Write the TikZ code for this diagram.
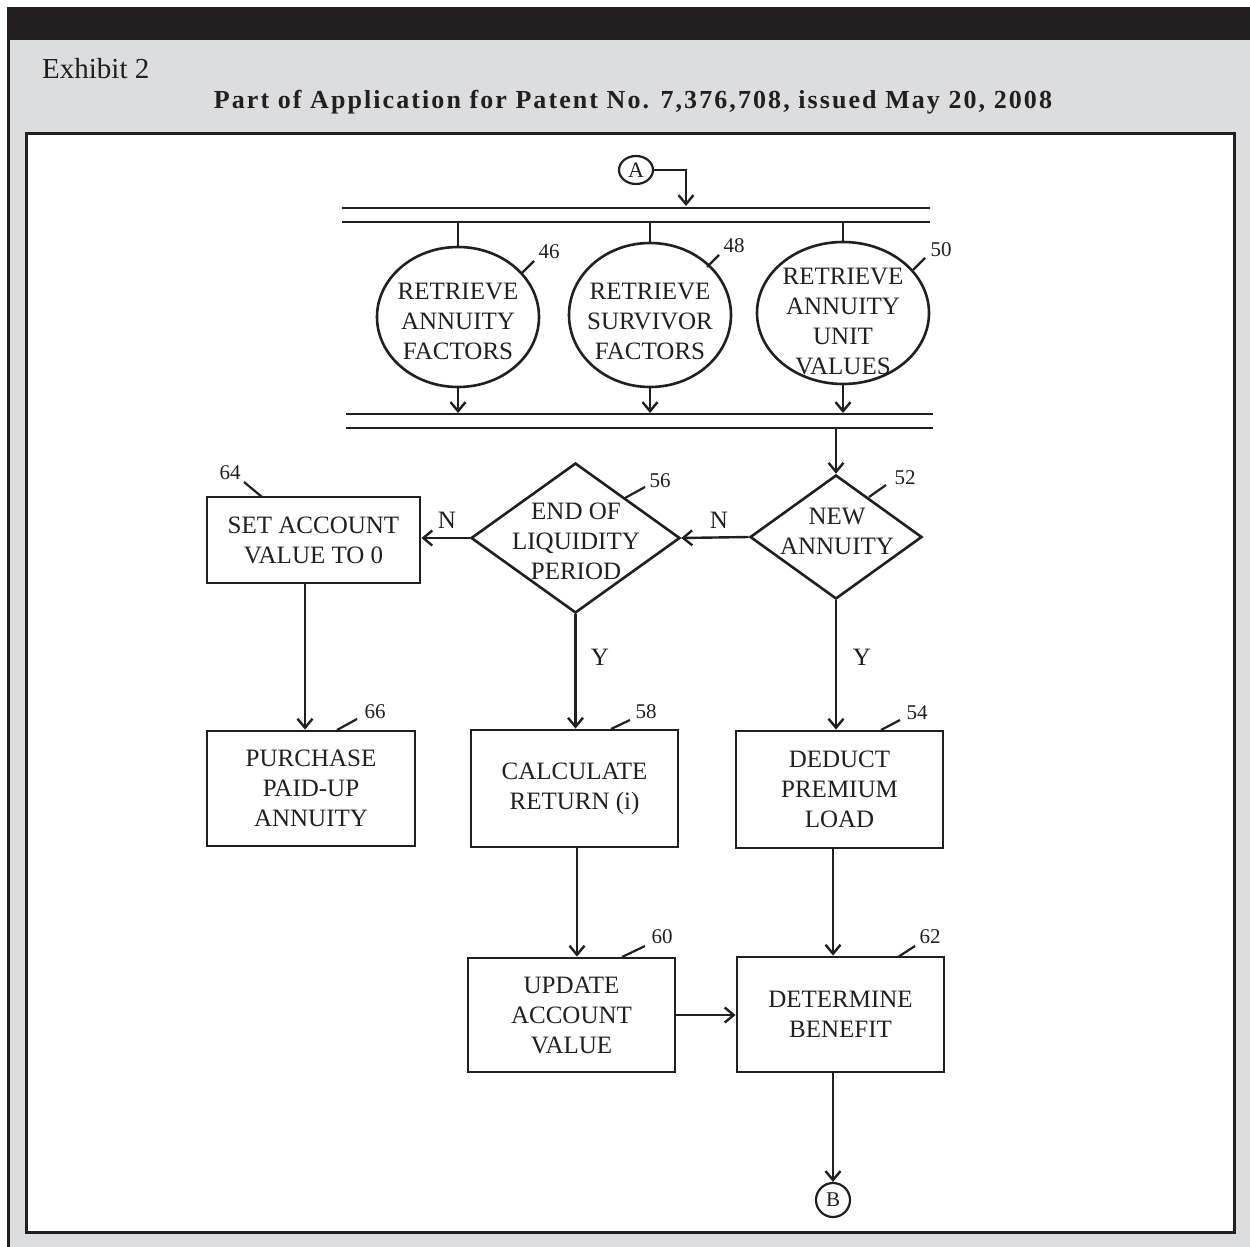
\documentclass[tikz,border=0pt]{standalone}
\usepackage{fontspec}
\setmainfont{Liberation Serif}
\newfontfamily\titlefont[LetterSpace=8]{Liberation Serif}
\usetikzlibrary{arrows.meta,shapes.geometric}
\definecolor{ink}{HTML}{231F20}
\definecolor{bg}{HTML}{DCDDDF}
\newcommand\dfont{\fontsize{25}{30}\selectfont}
\newcommand\nfont{\fontsize{21}{22}\selectfont}
\tikzset{
  boxnode/.style={draw=ink, line width=2.8pt, rectangle, inner sep=0pt, align=center, font=\dfont, text=ink},
  ellnode/.style={draw=ink, ellipse, line width=2.6pt, inner sep=0pt},
  dianode/.style={draw=ink, diamond, line width=2.6pt, inner sep=0pt},
  txtnode/.style={inner sep=0pt, align=center, font=\dfont, text=ink},
  numnode/.style={inner sep=0pt, font=\nfont, text=ink},
  lblnode/.style={inner sep=0pt, font=\dfont, text=ink},
  arr/.style={draw=ink, line width=2.4pt, -{Straight Barb[length=9pt,width=15pt]}},
  plain/.style={draw=ink, line width=2.4pt},
  busline/.style={draw=ink, line width=2.8pt},
  leader/.style={draw=ink, line width=2.2pt}
}
\begin{document}
\begin{tikzpicture}[x=1pt,y=-1pt]
\useasboundingbox (0,0) rectangle (1250,1247);
\fill[white] (0,0) rectangle (1250,1247);
\fill[bg] (7,40) rectangle (1250,1247);
\fill[ink] (7,7) rectangle (1250,40);
\draw[ink, line width=3pt] (8.5,40) -- (8.5,1247);
\filldraw[fill=white, draw=ink, line width=3pt] (26.5,133.5) rectangle (1234.5,1232.5);

\node[anchor=base west, inner sep=0pt, text=ink, font=\fontsize{29}{32}\selectfont] (exh) at (42,78) {Exhibit 2};
\node[anchor=base, inner sep=0pt, text=ink, font=\titlefont\bfseries\fontsize{26}{28}\selectfont] (title) at (633,108) {Part of Application for Patent No. 7,376,708, issued May 20, 2008};

% connector A
\node[draw=ink, ellipse, line width=2.2pt, minimum width=34pt, minimum height=28pt, inner sep=0pt, font=\fontsize{22}{24}\selectfont, text=ink] (A) at (636,170) {A};
\coordinate (a1) at (686,170);
\coordinate (a2) at (686,206);
\draw[arr] (A.east) -- (a1) -- (a2);

% top bus
\coordinate (t1l) at (342,208); \coordinate (t1r) at (930,208);
\coordinate (t2l) at (342,222); \coordinate (t2r) at (930,222);
\draw[busline] (t1l) -- (t1r);
\draw[busline] (t2l) -- (t2r);

% bottom bus
\coordinate (b1l) at (346,414); \coordinate (b1r) at (933,414);
\coordinate (b2l) at (346,428); \coordinate (b2r) at (933,428);
\draw[busline] (b1l) -- (b1r);
\draw[busline] (b2l) -- (b2r);
\coordinate (bus1) at (0,413);

% ellipses
\node[ellnode, minimum width=162pt, minimum height=140pt] (c46) at (458,317) {};
\node[txtnode] (c46t) at (458,321) {RETRIEVE\\ANNUITY\\FACTORS};
\node[ellnode, minimum width=162pt, minimum height=144pt] (c48) at (650,315) {};
\node[txtnode] (c48t) at (650,321) {RETRIEVE\\SURVIVOR\\FACTORS};
\node[ellnode, minimum width=172pt, minimum height=142pt] (c50) at (843,313) {};
\node[txtnode] (c50t) at (843,322) {RETRIEVE\\ANNUITY\\UNIT\\VALUES};

\foreach \c in {c46,c48,c50}{
  \draw[plain] (\c.north |- t2l) -- (\c.north);
  \draw[arr] (\c.south) -- (\c.south |- bus1);
}

% diamonds
\node[dianode, minimum width=172pt, minimum height=124pt] (d52) at (836,537) {};
\node[txtnode] (d52t) at (837,531) {NEW\\ANNUITY};
\node[dianode, minimum width=209pt, minimum height=150pt] (d56) at (575.5,538) {};
\node[txtnode] (d56t) at (576,541) {END OF\\LIQUIDITY\\PERIOD};

\coordinate (bd) at (836,428);
\draw[arr] (bd) -- (d52.north);

% boxes
\node[boxnode, minimum width=213pt, minimum height=86pt] (b64) at (313.5,540) {SET ACCOUNT\\VALUE TO 0};
\node[boxnode, minimum width=208pt, minimum height=115pt] (b66) at (311,788.5) {PURCHASE\\PAID-UP\\ANNUITY};
\node[boxnode, minimum width=207pt, minimum height=117pt] (b58) at (574.5,788.5) {CALCULATE\\RETURN (i)};
\node[boxnode, minimum width=207pt, minimum height=117pt] (b54) at (839.5,789.5) {DEDUCT\\PREMIUM\\LOAD};
\node[boxnode, minimum width=207pt, minimum height=114pt] (b60) at (571.5,1015) {UPDATE\\ACCOUNT\\VALUE};
\node[boxnode, minimum width=207pt, minimum height=115pt] (b62) at (840.5,1014.5) {DETERMINE\\BENEFIT};

\node[draw=ink, circle, line width=2.2pt, minimum size=34pt, inner sep=0pt, font=\fontsize{21}{22}\selectfont, text=ink] (B) at (833,1200) {B};

% connectors
\draw[arr] (d52.west) -- (d56.east);
\draw[arr] (d56.west) -- (d56.west -| b64.east);
\draw[arr] (d52.south) -- (d52.south |- b54.north);
\draw[arr] (d56.south) -- (d56.south |- b58.north);
\draw[arr] ([xshift=-8.5pt]b64.south) -- ([xshift=-6pt]b66.north);
\draw[arr] ([xshift=2.5pt]b58.south) -- ([xshift=5.5pt]b60.north);
\draw[arr] ([xshift=-6.5pt]b54.south) -- ([xshift=-7.5pt]b62.north);
\draw[arr] (b60.east) -- (b60.east -| b62.west);
\draw[arr] ([xshift=-7.5pt]b62.south) -- (B.north);

% branch labels
\node[lblnode] (n1) at (719,520) {N};
\node[lblnode] (n2) at (447,520) {N};
\node[lblnode] (y1) at (600,657) {Y};
\node[lblnode] (y2) at (862,657) {Y};

% reference numbers
\node[numnode] (r46) at (549,252) {46};
\coordinate (l46a) at (522,273); \coordinate (l46b) at (534,261);
\node[numnode] (r48) at (734,246) {48};
\coordinate (l48a) at (707,267); \coordinate (l48b) at (719,255);
\node[numnode] (r50) at (941,250) {50};
\coordinate (l50a) at (913,270); \coordinate (l50b) at (925,258);
\node[numnode] (r52) at (905,478) {52};
\coordinate (l52a) at (869,497); \coordinate (l52b) at (886,485);
\node[numnode] (r56) at (660,481) {56};
\coordinate (l56a) at (625,498); \coordinate (l56b) at (645,487);
\node[numnode] (r64) at (230,473) {64};
\coordinate (l64a) at (262,497); \coordinate (l64b) at (244,482);
\node[numnode] (r66) at (375,712) {66};
\coordinate (l66a) at (337,730); \coordinate (l66b) at (357,719);
\node[numnode] (r58) at (646,712) {58};
\coordinate (l58a) at (611,729); \coordinate (l58b) at (630,720);
\node[numnode] (r54) at (917,713) {54};
\coordinate (l54a) at (881,730); \coordinate (l54b) at (900,720);
\node[numnode] (r60) at (662,937) {60};
\coordinate (l60a) at (622,957); \coordinate (l60b) at (645,946);
\node[numnode] (r62) at (930,937) {62};
\coordinate (l62a) at (898,957); \coordinate (l62b) at (915,946);
\foreach \n in {46,48,50,52,56,64,66,58,54,60,62}{
  \draw[leader] (l\n a) -- (l\n b);
}
\end{tikzpicture}
\end{document}
